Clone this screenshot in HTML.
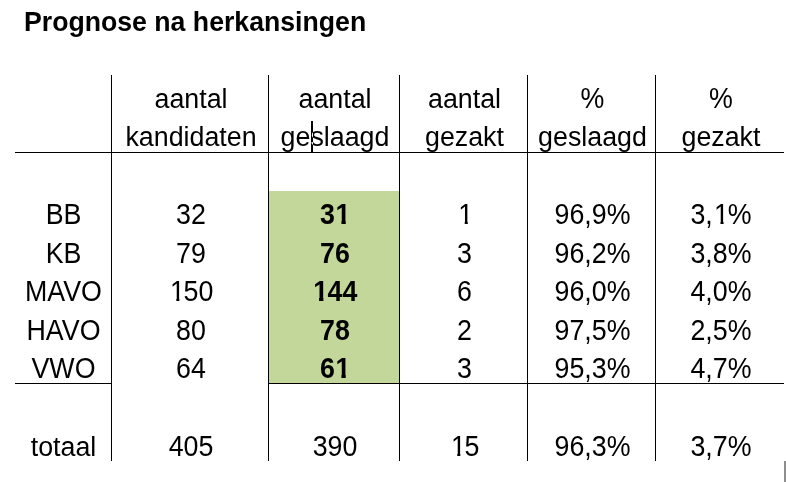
<!DOCTYPE html>
<html><head><meta charset="utf-8"><title>Prognose na herkansingen</title>
<style>
html,body{margin:0;padding:0;background:#fff;}
body{width:786px;height:482px;position:relative;overflow:hidden;font-family:"Liberation Sans",sans-serif;color:#000;}
.t{position:absolute;left:24px;top:2px;font-size:26.67px;font-weight:bold;white-space:nowrap;line-height:40px;height:40px;transform-origin:0 29px;transform:scaleY(1.07);}
.c{position:absolute;text-align:center;white-space:nowrap;font-size:26.8px;line-height:40px;height:40px;transform-origin:50% 29px;transform:scaleY(1.07);}
.b{font-weight:bold;}
.l{transform:none;}
.o{display:inline-block;position:relative;left:1.3px;clip-path:polygon(0 0,100% 0,100% 26px,0.352em 26px,0.352em 100%,0.238em 100%,0.238em 26px,0 26px);}
  .b .o{left:0.5px;clip-path:polygon(0 0,100% 0,100% 26.1px,0.383em 26.1px,0.383em 100%,0.221em 100%,0.221em 26.1px,0 26.1px);}
.v{position:absolute;width:1px;background:#000;}
.h{position:absolute;height:1px;background:#000;}
.g{position:absolute;background:#c4d79b;}
</style></head><body>
<div class="t">Prognose na herkansingen</div>

<div class="g" style="left:269px;top:191px;width:130px;height:192px"></div>
<div class="c l" style="left:113px;width:156px;top:79px">aantal</div>
<div class="c l" style="left:270px;width:130px;top:79px">aantal</div>
<div class="c l" style="left:401px;width:127px;top:79px">aantal</div>
<div class="c" style="left:529px;width:127px;top:79px">%</div>
<div class="c" style="left:657px;width:128px;top:79px">%</div>
<div class="c l" style="left:113px;width:156px;top:117px">kandidaten</div>
<div class="c l" style="left:270px;width:130px;top:117px">geslaagd</div>
<div class="c l" style="left:401px;width:127px;top:117px">gezakt</div>
<div class="c l" style="left:529px;width:127px;top:117px">geslaagd</div>
<div class="c l" style="left:657px;width:128px;top:117px">gezakt</div>
<div class="c" style="left:16px;width:95px;top:195px">BB</div>
<div class="c" style="left:113px;width:156px;top:195px">32</div>
<div class="c b" style="left:270px;width:130px;top:195px">3<span class="o">1</span></div>
<div class="c" style="left:401px;width:127px;top:195px"><span class="o">1</span></div>
<div class="c" style="left:529px;width:127px;top:195px">96,9%</div>
<div class="c" style="left:657px;width:128px;top:195px">3,<span class="o">1</span>%</div>
<div class="c" style="left:16px;width:95px;top:234px">KB</div>
<div class="c" style="left:113px;width:156px;top:234px">79</div>
<div class="c b" style="left:270px;width:130px;top:234px">76</div>
<div class="c" style="left:401px;width:127px;top:234px">3</div>
<div class="c" style="left:529px;width:127px;top:234px">96,2%</div>
<div class="c" style="left:657px;width:128px;top:234px">3,8%</div>
<div class="c" style="left:16px;width:95px;top:272px">MAVO</div>
<div class="c" style="left:113px;width:156px;top:272px"><span class="o">1</span>50</div>
<div class="c b" style="left:270px;width:130px;top:272px"><span class="o">1</span>44</div>
<div class="c" style="left:401px;width:127px;top:272px">6</div>
<div class="c" style="left:529px;width:127px;top:272px">96,0%</div>
<div class="c" style="left:657px;width:128px;top:272px">4,0%</div>
<div class="c" style="left:16px;width:95px;top:311px">HAVO</div>
<div class="c" style="left:113px;width:156px;top:311px">80</div>
<div class="c b" style="left:270px;width:130px;top:311px">78</div>
<div class="c" style="left:401px;width:127px;top:311px">2</div>
<div class="c" style="left:529px;width:127px;top:311px">97,5%</div>
<div class="c" style="left:657px;width:128px;top:311px">2,5%</div>
<div class="c" style="left:16px;width:95px;top:349px">VWO</div>
<div class="c" style="left:113px;width:156px;top:349px">64</div>
<div class="c b" style="left:270px;width:130px;top:349px">6<span class="o">1</span></div>
<div class="c" style="left:401px;width:127px;top:349px">3</div>
<div class="c" style="left:529px;width:127px;top:349px">95,3%</div>
<div class="c" style="left:657px;width:128px;top:349px">4,7%</div>
<div class="c l" style="left:16px;width:95px;top:426.5px">totaal</div>
<div class="c" style="left:113px;width:156px;top:426.5px">405</div>
<div class="c" style="left:270px;width:130px;top:426.5px">390</div>
<div class="c" style="left:401px;width:127px;top:426.5px"><span class="o">1</span>5</div>
<div class="c" style="left:529px;width:127px;top:426.5px">96,3%</div>
<div class="c" style="left:657px;width:128px;top:426.5px">3,7%</div>
<div class="v" style="left:111px;top:75px;height:386px"></div>
<div class="v" style="left:268px;top:75px;height:386px"></div>
<div class="v" style="left:399px;top:75px;height:386px"></div>
<div class="v" style="left:527px;top:75px;height:386px"></div>
<div class="v" style="left:655px;top:75px;height:386px"></div>
<div class="h" style="left:15px;top:152px;width:769px"></div>
<div class="h" style="left:15px;top:383px;width:97px"></div>
<div class="h" style="left:268px;top:383px;width:516px"></div>
<div style="position:absolute;left:311px;top:121px;width:2px;height:31px;background:#fff;mix-blend-mode:difference"></div>
<div style="position:absolute;left:784px;top:461px;width:2px;height:21px;background:#8e8e8e"></div>
</body></html>
